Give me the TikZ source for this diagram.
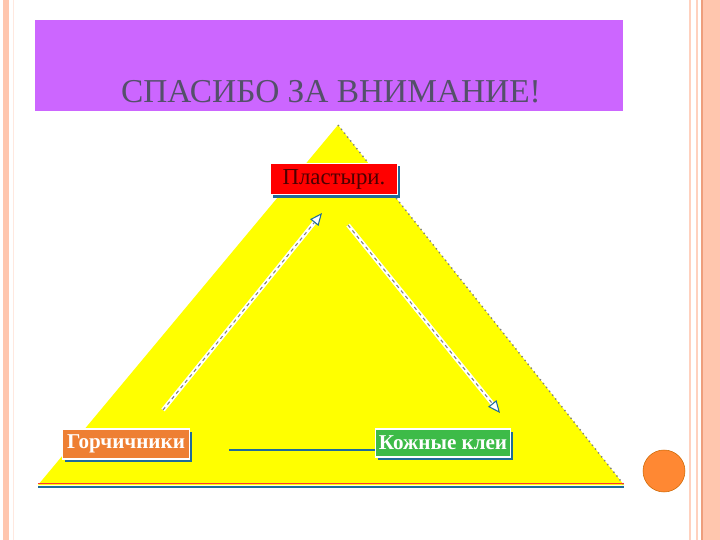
\documentclass[tikz,border=0pt]{standalone}
\usepackage{fontspec}
\setmainfont{Liberation Serif}
\usetikzlibrary{calc,arrows.meta,shadows}
\definecolor{salmon}{HTML}{FFC6AE}
\definecolor{salmondark}{HTML}{EE9E7C}
\definecolor{titlebg}{HTML}{CC66FF}
\definecolor{titletext}{HTML}{54506A}
\definecolor{trifill}{HTML}{FFFF00}
\definecolor{shadowblue}{HTML}{1F6C9A}
\definecolor{boxred}{HTML}{FF0000}
\definecolor{boxorange}{HTML}{EE7F33}
\definecolor{boxgreen}{HTML}{3DBB48}
\definecolor{dotorange}{HTML}{FF8833}
\tikzset{>={Triangle[fill=white,color=shadowblue,length=7pt,width=6pt]}}
\tikzset{
  tbox/.style={draw=white,line width=0.8pt,minimum height=0.56cm,inner xsep=2pt,
    font=\fontsize{12}{14}\selectfont,
    general shadow={fill=shadowblue,shadow xshift=1.6pt,shadow yshift=-1.6pt}},
  flow/.style={->,draw=gray,line width=0.6pt,dash pattern=on 2pt off 2pt}
}

\begin{document}
\begin{tikzpicture}[x=0.02cm,y=-0.02cm]
\useasboundingbox (0,0) rectangle (720,540);
\fill[white] (0,0) rectangle (720,540);

% page borders
\fill[salmon] (3,0) rectangle (9,540);
\draw[salmon!40] (13,0) -- (13,540);
\draw[salmon!80,line width=1pt] (690,0) -- (690,540);
\draw[salmon!80,line width=1pt] (697,0) -- (697,540);
\draw[salmondark,line width=1pt] (702,0) -- (702,540);
\fill[salmon] (703,0) rectangle (720,540);

% title
\fill[titlebg] (35,20) rectangle (623,111);
\node[text=titletext,font=\fontsize{19}{22}\selectfont] (title) at (331,92) {СПАСИБО ЗА ВНИМАНИЕ!};

% triangle
\fill[trifill]
  (338,125) coordinate (A) --
  (38,485) coordinate (B) --
  (624,485) coordinate (C) -- cycle;
\draw[gray,dotted,thick] (A) -- (C);
\draw[red!80,line width=0.6pt] ($(B)+(0,-1.5)$) -- ($(C)+(0,-1.5)$);
\draw[shadowblue,line width=1.6pt] ($(B)+(0,2)$) -- ($(C)+(0,2)$);

\node[tbox,fill=boxred,text=red!30!black,minimum width=2.54cm,font=\fontsize{13}{15}\selectfont] (plast) at (334,179) {Пластыри.};
\node[tbox,fill=boxorange,text=white,minimum width=2.54cm,font=\fontsize{12}{14}\selectfont\bfseries] (gorch) at (126,444) {Горчичники};
\node[tbox,fill=boxgreen,text=white,minimum width=2.7cm,font=\fontsize{12}{14}\selectfont\bfseries] (klei) at (443,443) {Кожные клеи};

% connectors
\coordinate (a1s) at (163,410);
\coordinate (a1e) at (322,213);
\coordinate (a2s) at (348,225);
\coordinate (a2e) at (500,413);
\coordinate (lstart) at (229,450);
\foreach \s/\e in {a1s/a1e,a2s/a2e}{
  \draw[white,line width=2.4pt,shorten >=6pt] (\s) -- (\e);
  \draw[flow] (\s) -- (\e);
}
\draw[shadowblue,line width=1.6pt] (lstart) -- (lstart -| klei.west);

% corner dot
\fill[dotorange,draw=orange!80!black,line width=0.3pt] (664,471) circle (21);
\end{tikzpicture}
\end{document}
